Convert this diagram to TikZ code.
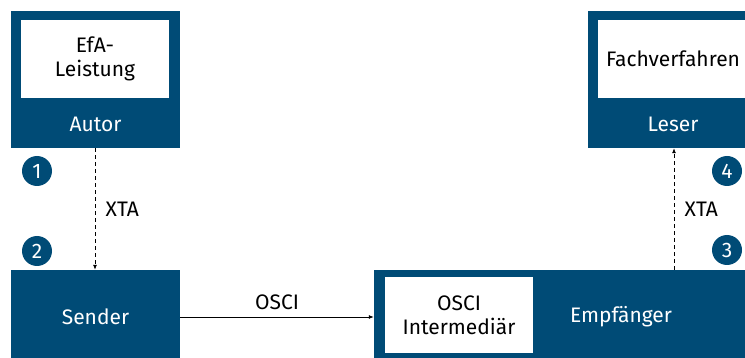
\documentclass[tikz,border=0pt]{standalone}
\usepackage{fontspec}
\setmainfont{Fira Sans}
\usepackage{xcolor}
\usetikzlibrary{positioning,arrows.meta}
\definecolor{efablue}{RGB}{0,75,118}

\begin{document}
\begin{tikzpicture}[x=1pt,y=-1pt,>={Latex[length=5pt,width=4pt]},
	font=\fontsize{21}{24}\selectfont,
	role/.style={rectangle,fill=efablue,inner sep=0pt},
	inner/.style={rectangle,fill=white,inner sep=0pt,align=center},
	rolelabel/.style={text=white},
	num/.style={circle,fill=efablue,text=white,inner sep=0pt,minimum size=30pt},
	flow/.style={->,line width=0.8pt},
	xta/.style={flow,dash pattern=on 4pt off 3pt}]
	\useasboundingbox (0,0) rectangle (745,358);

	% Rollen
	\node[role,minimum width=169pt,minimum height=137pt] (autor) at (95.5,79.5) {};
	\node[role,minimum width=170pt,minimum height=137pt] (leser) at (673,79.5) {};
	\node[role,minimum width=169pt,minimum height=96pt] (sender) at (95.5,318) {};
	\node[role,minimum width=390pt,minimum height=96pt] (empf) at (569,318) {};

	\node[inner,minimum width=148pt,minimum height=78pt] (efa) at (95,59) {EfA-\\Leistung};
	\node[inner,minimum width=150pt,minimum height=78pt] (fach) at (673,59) {Fachverfahren};
	\node[inner,minimum width=148pt,minimum height=76pt] (inter) at (459,315) {OSCI\\Intermedi\"ar};

	\node[rolelabel] (autorlbl) at (95.5,124) {Autor};
	\node[rolelabel] (leserlbl) at (673,124) {Leser};
	\node[rolelabel] (senderlbl) at (95.5,317) {Sender};
	\node[rolelabel] (empflbl) at (621,317) {Empf\"anger};

	% Schritte
	\node[num] (n1) at (37,171) {1};
	\node[num] (n2) at (37,251) {2};
	\node[num] (n3) at (727,250) {3};
	\node[num] (n4) at (727,171) {4};

	% Nachrichten
	\draw[xta] (autor.south -| 95,0) -- node[right=7pt] (xta1) {XTA} (sender.north -| 95,0);
	\draw[xta] (empf.north -| 674,0) -- node[right=7pt] (xta2) {XTA} (leser.south -| 674,0);
	\draw[flow] (sender.east |- 0,317) -- node[above=4pt] (osci) {OSCI} (empf.west |- 0,317);
\end{tikzpicture}
\end{document}
